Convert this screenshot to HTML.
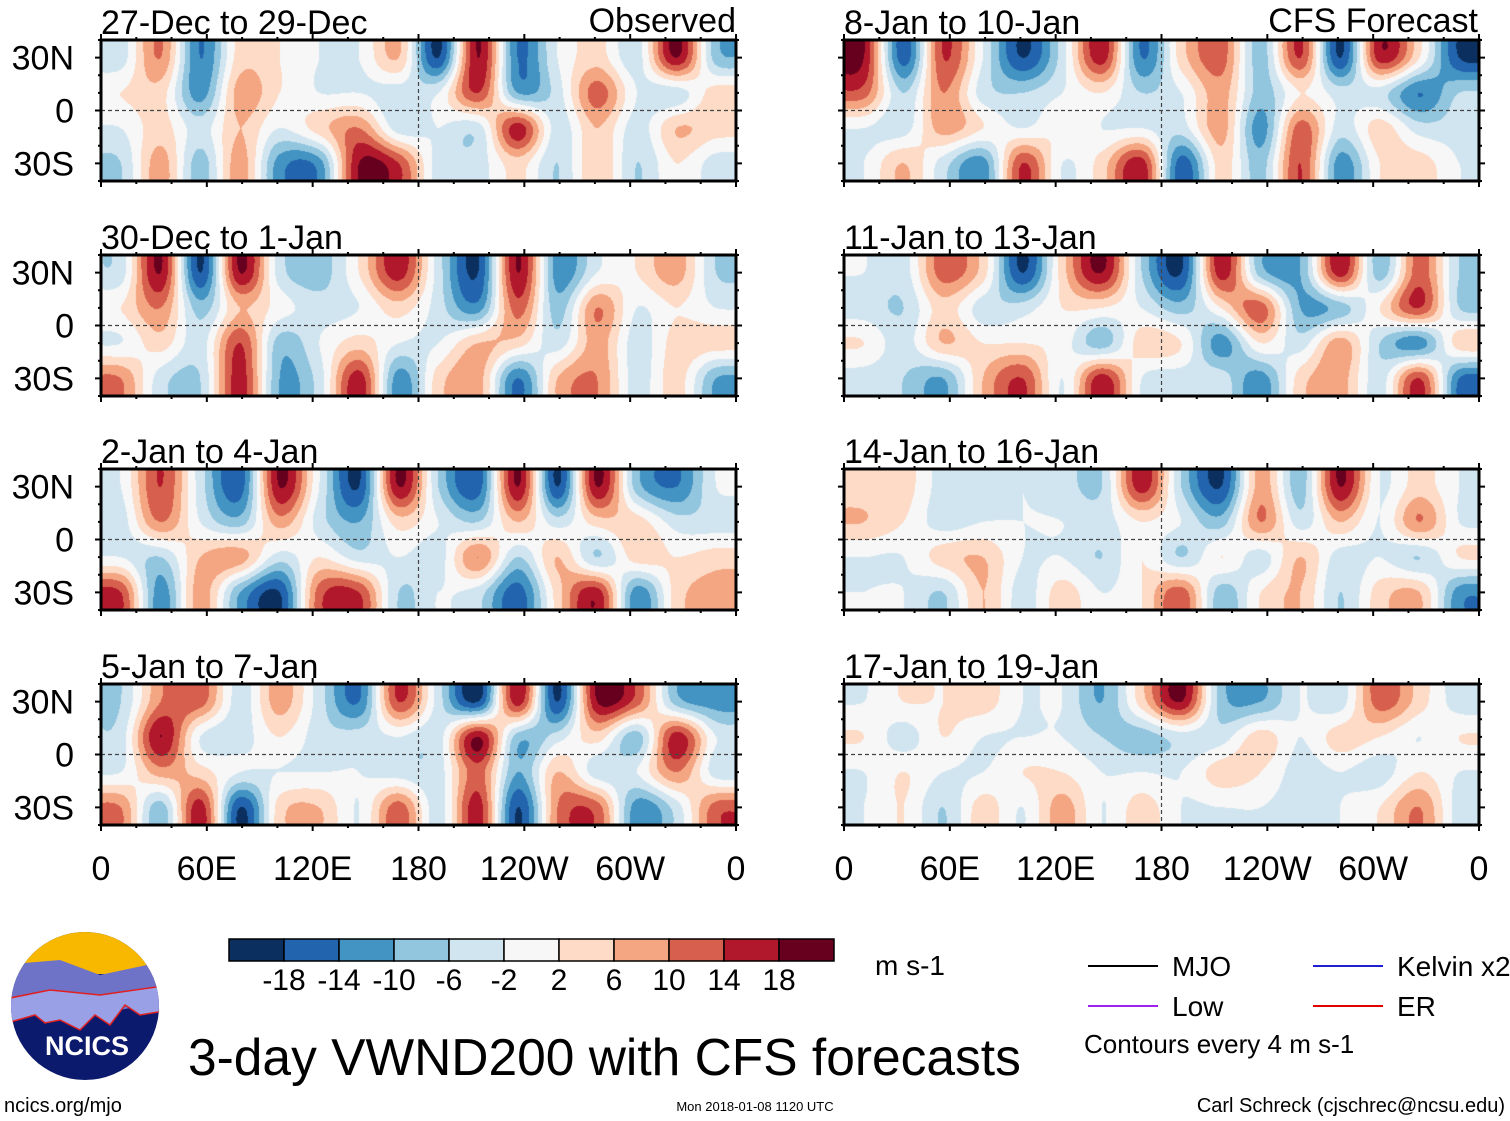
<!DOCTYPE html>
<html><head><meta charset="utf-8"><style>
body{margin:0;width:1510px;height:1121px;background:#fff;position:relative;overflow:hidden;font-family:"Liberation Sans",sans-serif;color:#000}
canvas{position:absolute}
</style></head><body>
<svg id="ov" width="1510" height="1121" style="position:absolute;left:0;top:0"></svg>
<script>
const panelTitles=["27-Dec to 29-Dec","30-Dec to 1-Jan","2-Jan to 4-Jan","5-Jan to 7-Jan","8-Jan to 10-Jan","11-Jan to 13-Jan","14-Jan to 16-Jan","17-Jan to 19-Jan"];
const latLabels=["30N","0","30S"];
const lonLabels=["0","60E","120E","180","120W","60W","0"];
const levels=[-18,-14,-10,-6,-2,2,6,10,14,18];
const colors=["#0b305f","#2264ad","#4393c3","#92c5de","#d1e5f0","#f7f7f7","#fddbc7","#f4a582","#d6604d","#b2182b","#67001f"];
const g0=[[-4,10,-14,4,2,-2,-2,6,-18,18,-14,-2,4,-4,18,-8],[2,4,-12,8,2,-2,-2,-4,-2,14,-10,-4,12,-2,-4,4],[-2,4,-4,6,-2,4,10,-4,-2,-4,16,-4,6,-4,6,4],[-6,8,-8,8,-12,-12,18,14,-4,-4,4,-6,6,-6,2,-4]];
const g1=[[-4,18,-18,18,-4,-8,2,16,-4,-18,18,-12,-2,2,8,-6],[2,10,-8,6,0,-4,-2,4,-4,-12,12,-8,10,-2,2,-2],[-2,4,-4,14,-8,-2,4,-2,-2,6,4,-4,8,-4,4,4],[10,-4,-6,16,-10,-4,16,-12,4,8,-14,6,10,-4,4,-10]];
const g2=[[-2,14,-4,-16,18,-2,-18,18,-6,-16,18,-18,18,-8,-14,-2],[-4,10,-2,-8,8,-4,-10,4,-2,-6,6,-4,4,4,-4,-4],[-2,-6,6,8,-4,2,-4,-2,-4,10,-6,6,-6,4,2,4],[14,-12,8,-10,-18,12,14,-6,-2,-4,-16,4,16,-12,4,8]];
const g3=[[-6,10,12,-4,8,-4,-14,14,-4,-18,16,-18,18,12,-8,-12],[-4,18,-2,-4,2,-4,-4,-2,-4,18,-8,-4,4,-8,16,-2],[-2,8,4,-2,-2,-2,-2,-4,-4,12,-10,6,-4,-2,10,-4],[10,-8,16,-18,4,6,-2,12,-4,16,-18,10,12,-12,-4,12]];
const g4=[[18,-16,14,-2,-18,-4,16,-14,4,12,-8,14,-18,16,2,-18],[12,-6,10,-4,-6,-2,2,-6,-2,8,-8,2,-4,-4,-14,-6],[-2,-4,8,2,-2,2,-2,-2,-4,8,-12,12,-4,4,-4,-4],[-2,6,-4,-12,14,-2,4,16,-16,4,-8,14,-12,2,4,-2]];
const g5=[[-2,-4,12,4,-18,4,18,-6,-18,16,-8,-10,16,-8,12,-6],[-4,-6,4,-4,-4,2,2,-2,-8,2,12,-10,-8,2,14,-6],[2,-4,6,2,2,0,-8,4,2,-12,2,-4,8,-6,-12,4],[-4,-6,-10,6,14,-2,16,-2,-4,-4,-12,4,8,-4,14,-14]];
const g6=[[4,4,-4,-4,-2,-4,-6,16,-6,-18,8,-8,18,-2,4,-2],[6,2,-4,-2,-2,-2,-4,2,-2,-8,10,-4,6,-2,10,-2],[-2,-2,4,6,-2,-2,-6,2,-6,2,-4,6,-4,-2,-6,2],[-2,-2,-6,6,-4,4,-2,2,12,-8,2,6,-6,4,6,-12]];
const g7=[[-2,2,2,4,-2,-2,-10,4,18,-8,-10,-2,-4,12,4,-4],[2,-4,2,-2,-2,-2,-6,-8,-4,-4,4,-2,4,2,-2,2],[-2,2,-2,-2,2,2,-2,-2,-2,4,2,-4,-2,-4,2,-2],[-2,2,-6,4,-2,8,-2,4,-2,-2,-2,-4,-2,2,10,-4]];
const grids=[g0,g1,g2,g3,g4,g5,g6,g7];
</script>
<script>
const NS="http://www.w3.org/2000/svg";
const ov=document.getElementById('ov');
const colX=[101,844],rowY=[40,255,469,684],PW=635,PH=141;
function hex(c){return [parseInt(c.substr(1,2),16),parseInt(c.substr(3,2),16),parseInt(c.substr(5,2),16)];}
const rgb=colors.map(hex);
function idxOf(v){let i=0;while(i<levels.length&&v>=levels[i])i++;return i;}
function cr(p0,p1,p2,p3,t){return 0.5*(2*p1+(-p0+p2)*t+(2*p0-5*p1+4*p2-p3)*t*t+(-p0+3*p1-3*p2+p3)*t*t*t);}
function at(g,j,i){const nr=g.length,nc=g[0].length;j=Math.max(0,Math.min(nr-1,j));i=Math.max(0,Math.min(nc-1,i));return g[j][i];}
function sample(g,x,y){const nr=g.length,nc=g[0].length;
 let fx=x*nc-0.5,fy=y*nr-0.5;
 const i=Math.floor(fx),j=Math.floor(fy),tx=fx-i,ty=fy-j;
 const r=[];for(let m=-1;m<=2;m++)r.push(cr(at(g,j+m,i-1),at(g,j+m,i),at(g,j+m,i+1),at(g,j+m,i+2),tx));
 return cr(r[0],r[1],r[2],r[3],ty);}
function mk(tag,a,parent){const e=document.createElementNS(NS,tag);for(const k in a)e.setAttribute(k,a[k]);(parent||ov).appendChild(e);return e;}
function txt(s,x,y,size,anchor,name){const e=mk('text',{x:x,y:y,'font-size':size,'text-anchor':anchor||'start','font-family':'Liberation Sans, sans-serif',fill:'#000'});e.textContent=s;
 
 return e;}
grids.forEach((g,p)=>{
 const c=p<4?0:1,r=p%4,x0=colX[c],y0=rowY[r];
 const cv=document.createElement('canvas');cv.width=PW;cv.height=PH;cv.style.left=x0+'px';cv.style.top=y0+'px';
 
 
 document.body.insertBefore(cv,ov);
 const ctx=cv.getContext('2d'),im=ctx.createImageData(PW,PH);
 for(let yy=0;yy<PH;yy++)for(let xx=0;xx<PW;xx++){const v=sample(g,(xx+0.5)/PW,(yy+0.5)/PH);const k=rgb[idxOf(v)];const o=(yy*PW+xx)*4;im.data[o]=k[0];im.data[o+1]=k[1];im.data[o+2]=k[2];im.data[o+3]=255;}
 ctx.putImageData(im,0,0);
 const grp=mk('g',{});
 
 
 mk('line',{x1:x0,x2:x0+PW,y1:y0+PH/2,y2:y0+PH/2,stroke:'#444','stroke-width':1.2,'stroke-dasharray':'4,3'},grp);
 mk('line',{x1:x0+PW/2,x2:x0+PW/2,y1:y0,y2:y0+PH,stroke:'#444','stroke-width':1.2,'stroke-dasharray':'4,3'},grp);
 mk('rect',{x:x0,y:y0,width:PW,height:PH,fill:'none',stroke:'#000','stroke-width':3},grp);
 for(let k=0;k<=18;k++){const xx=x0+PW*k/18;const L=k%3==0?6:3;
  mk('line',{x1:xx,x2:xx,y1:y0,y2:y0-L,stroke:'#000','stroke-width':2},grp);mk('line',{x1:xx,x2:xx,y1:y0+PH,y2:y0+PH+L,stroke:'#000','stroke-width':2},grp);}
 for(let k=0;k<=8;k++){const yy=y0+PH*k/8;const L=(k==1||k==4||k==7)?6:3;
  mk('line',{x1:x0,x2:x0-L,y1:yy,y2:yy,stroke:'#000','stroke-width':2},grp);mk('line',{x1:x0+PW,x2:x0+PW+L,y1:yy,y2:yy,stroke:'#000','stroke-width':2},grp);}
 txt(panelTitles[p],x0,y0-6,34,'start','panel-title-'+(p+1));
 if(c==0)latLabels.forEach((s,k)=>txt(s,74,y0+PH*(1+3*k)/8+12,34,'end','lat-label'));
});
txt("Observed",736,32,34,'end','observed-label');
txt("CFS Forecast",1478,32,34,'end','cfs-forecast-label');
colX.forEach(x0=>lonLabels.forEach((s,k)=>txt(s,x0+PW*k/6,880,34,'middle','lon-label')));
const cb=mk('g',{});
colors.forEach((c,i)=>mk('rect',{x:229+i*55,y:939,width:55,height:22,fill:c,stroke:'#000','stroke-width':1.5},cb));
levels.forEach((v,i)=>txt(String(v),284+i*55,990,30,'middle','colorbar-tick'));
txt("m s-1",875,975,28,'start','units-label');
[[1088,966,'#000','MJO'],[1088,1006,'#a020f0','Low'],[1313,966,'#2020d0','Kelvin x2'],[1313,1006,'#e00000','ER']].forEach(a=>{
 mk('line',{x1:a[0],x2:a[0]+70,y1:a[1],y2:a[1],stroke:a[2],'stroke-width':2});txt(a[3],a[0]+84,a[1]+10,28,'start','legend-entry');});
txt("Contours every 4 m s-1",1084,1053,26,'start','contour-note');
txt("3-day VWND200 with CFS forecasts",188,1075,51.5,'start','main-title');
txt("ncics.org/mjo",4,1112,20,'start','site-url');
txt("Mon 2018-01-08 1120 UTC",755,1111,13,'middle','timestamp');
txt("Carl Schreck (cjschrec@ncsu.edu)",1505,1112,20,'end','author');
const lg=mk('g',{});
mk('clipPath',{id:'cl'},lg);mk('circle',{cx:85,cy:1006,r:74},document.getElementById('cl'));
const lc=mk('g',{'clip-path':'url(#cl)'},lg);
mk('rect',{x:0,y:930,width:170,height:160,fill:'#0c1a6e'},lc);
mk('rect',{x:0,y:930,width:170,height:44,fill:'#f8b800'},lc);
mk('path',{d:'M0 965 L60 960 L100 975 L170 960 L170 1000 L120 1010 L60 1005 L0 1015Z',fill:'#6f73c8'},lc);
mk('path',{d:'M0 1000 L50 990 L100 995 L170 985 L170 1010 L140 1015 L125 1005 L110 1025 L95 1015 L80 1030 L60 1020 L45 1023 L35 1015 L0 1025Z',fill:'#9aa0e6',stroke:'#e02020','stroke-width':1.5},lc);
const ln=mk('text',{x:87,y:1055,'font-size':27,'font-weight':'bold','text-anchor':'middle','font-family':'Liberation Sans, sans-serif',fill:'#fff'},lg);ln.textContent='NCICS';
</script>
</body></html>
